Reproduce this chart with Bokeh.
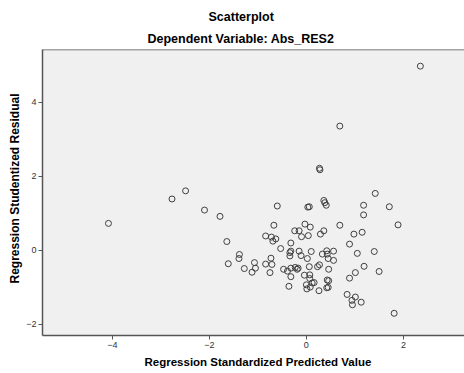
from bokeh.plotting import figure
from bokeh.models import Range1d, FixedTicker, Title, Span
from bokeh.embed import file_html
from bokeh.resources import INLINE

# Regression standardized predicted value (x) and studentized residual (y)
pred = [2.35, 0.69, 0.27, 0.28, 1.42, -4.08, -2.49, -2.77, -2.10, -1.78,
        -1.64, -1.38, -1.39, -1.61, -1.28, -1.07, -1.05, -1.12, -0.60, 0.03,
        0.06, 0.36, 0.38, 0.41, 1.18, 1.71, 1.18, 1.89, -0.67, -0.03,
        0.08, 0.69, -0.24, -0.15, 0.36, 0.29, -0.10, 0.04, -0.84, -0.72,
        -0.69, -0.63, 0.98, 1.15, -0.32, 0.89, -0.53, -0.32, -0.34, -0.34,
        -0.15, -0.11, 0.10, 0.02, 0.33, 0.42, 0.43, 0.56, 0.45, 0.56,
        1.05, 1.40, -0.73, -0.84, -0.71, -0.75, -0.47, -0.39, -0.32, -0.23,
        -0.19, -0.17, -0.32, 0.06, 0.23, 0.27, 0.46, 1.19, 1.50, 1.01,
        0.89, -0.04, 0.07, 0.07, 0.16, 0.12, 0.00, 0.01, 0.08, 0.43,
        0.46, 0.42, 0.45, 0.26, -0.36, 0.84, 1.01, 0.94, 0.95, 1.13,
        1.81]
resid = [4.98, 3.36, 2.22, 2.18, 1.54, 0.73, 1.61, 1.39, 1.09, 0.92,
         0.24, -0.11, -0.22, -0.36, -0.49, -0.33, -0.48, -0.59, 1.20, 1.17,
         1.18, 1.35, 1.29, 1.22, 1.22, 1.18, 0.96, 0.69, 0.68, 0.71,
         0.63, 0.68, 0.53, 0.53, 0.53, 0.44, 0.37, 0.40, 0.39, 0.36,
         0.25, 0.31, 0.44, 0.49, 0.20, 0.17, 0.05, -0.02, -0.06, -0.15,
         -0.02, -0.14, -0.03, -0.22, -0.10, -0.01, -0.10, -0.02, -0.22, -0.27,
         -0.08, -0.03, -0.21, -0.37, -0.38, -0.60, -0.51, -0.56, -0.48, -0.46,
         -0.51, -0.48, -0.71, -0.44, -0.44, -0.39, -0.51, -0.43, -0.57, -0.60,
         -0.75, -0.67, -0.66, -0.76, -0.87, -0.88, -0.93, -1.04, -0.99, -0.80,
         -0.82, -1.01, -1.00, -1.09, -0.97, -1.19, -1.26, -1.35, -1.47, -1.40,
         -1.70]
x_ticks = [-4, -2, 0, 2]
y_ticks = [-2, 0, 2, 4]

FONT = "Liberation Sans"
X0, X1 = -5.44, 3.26
Y0, Y1 = -2.30, 5.43

p = figure(width=464, height=373, output_backend="svg", toolbar_location=None,
           x_range=Range1d(X0, X1), y_range=Range1d(Y0, Y1),
           min_border_left=42, min_border_right=0, min_border_top=49,
           min_border_bottom=38,
           title="Scatterplot")

p.title.align = "left"
p.title.offset = 166
p.title.text_font = FONT
p.title.text_font_size = "12.5px"
p.title.text_font_style = "bold"
p.title.text_color = "#000000"
p.title.standoff = 4
p.add_layout(Title(text="Dependent Variable: Abs_RES2", align="left", offset=105,
                   text_font=FONT, text_font_size="12.5px", text_font_style="bold",
                   text_color="#000000", standoff=8), "above")

p.background_fill_color = "#F0F0F0"
p.border_fill_color = "#FFFFFF"
p.outline_line_color = None
p.grid.visible = False

p.add_layout(Span(location=Y1, dimension="width", line_color="#555555", line_width=1.5))

for ax in (p.xaxis[0], p.yaxis[0]):
    ax.axis_line_color = "#555555"
    ax.axis_line_width = 1.5
    ax.major_tick_line_color = "#555555"
    ax.major_tick_in = 0
    ax.major_tick_out = 4
    ax.minor_tick_line_color = None
    ax.major_label_text_font = FONT
    ax.major_label_text_font_size = "9px"
    ax.major_label_text_color = "#333333"
    ax.major_label_standoff = 2

p.xaxis.ticker = FixedTicker(ticks=x_ticks)
p.yaxis.ticker = FixedTicker(ticks=y_ticks)

p.add_layout(Title(text="Regression Standardized Predicted Value", align="left", offset=102,
                   text_font=FONT, text_font_size="11.5px", text_font_style="bold",
                   text_color="#000000", standoff=7), "below")

p.add_layout(Title(text="Regression Studentized Residual", align="left", offset=52,
                   text_font=FONT, text_font_size="12px", text_font_style="bold",
                   text_color="#000000", standoff=4), "left")

p.scatter(pred, resid, size=6, fill_color=None, line_color="#404040", line_width=1)

open("out.html", "w").write(file_html(p, INLINE))
